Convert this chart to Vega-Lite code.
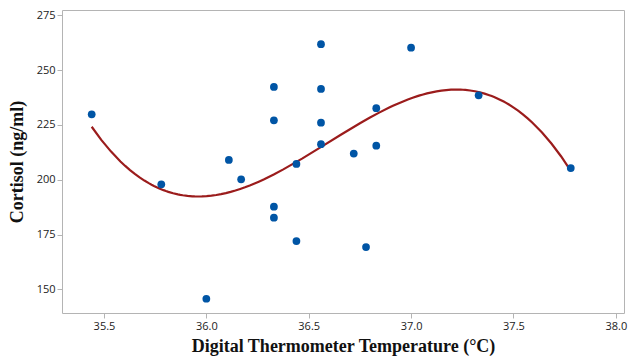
{
  "$schema": "https://vega.github.io/schema/vega-lite/v6.json",
  "width": 562,
  "height": 303,
  "autosize": "none",
  "padding": {"left": 62, "top": 10, "right": 10, "bottom": 43},
  "background": "white",
  "config": {
    "view": {"stroke": "#b4b4b4", "strokeWidth": 1},
    "axis": {
      "grid": false,
      "domain": false,
      "tickColor": "#b4b4b4",
      "tickSize": 5,
      "labelFont": "Open Sans",
      "labelFontSize": 11,
      "labelColor": "#222222",
      "titleFont": "Liberation Serif",
      "titleFontSize": 18,
      "titleFontWeight": "bold",
      "titleColor": "#111111"
    }
  },
  "data": {
    "values": [
      {"temp": 35.44, "cortisol": 229.8},
      {"temp": 35.78, "cortisol": 197.9},
      {"temp": 36.0, "cortisol": 145.7},
      {"temp": 36.11, "cortisol": 209.0},
      {"temp": 36.17, "cortisol": 200.2},
      {"temp": 36.33, "cortisol": 242.3},
      {"temp": 36.33, "cortisol": 227.1},
      {"temp": 36.33, "cortisol": 187.7},
      {"temp": 36.33, "cortisol": 182.7},
      {"temp": 36.44, "cortisol": 207.2},
      {"temp": 36.44, "cortisol": 172.0},
      {"temp": 36.56, "cortisol": 261.8},
      {"temp": 36.56, "cortisol": 241.4},
      {"temp": 36.56, "cortisol": 226.0},
      {"temp": 36.56, "cortisol": 216.2},
      {"temp": 36.72, "cortisol": 211.9},
      {"temp": 36.78, "cortisol": 169.3},
      {"temp": 36.83, "cortisol": 232.6},
      {"temp": 36.83, "cortisol": 215.5},
      {"temp": 37.0, "cortisol": 260.2},
      {"temp": 37.33, "cortisol": 238.5},
      {"temp": 37.78, "cortisol": 205.3}
    ]
  },
  "encoding": {
    "x": {
      "field": "temp",
      "type": "quantitative",
      "scale": {"domain": [35.295, 38.04], "nice": false, "zero": false},
      "axis": {
        "values": [35.5, 36.0, 36.5, 37.0, 37.5, 38.0],
        "format": ".1f",
        "title": "Digital Thermometer Temperature (°C)",
        "titlePadding": 6
      }
    },
    "y": {
      "field": "cortisol",
      "type": "quantitative",
      "scale": {"domain": [139.2, 277.4], "nice": false, "zero": false},
      "axis": {
        "values": [150, 175, 200, 225, 250, 275],
        "title": "Cortisol (ng/ml)",
        "titlePadding": 10
      }
    }
  },
  "layer": [
    {
      "transform": [
        {"regression": "cortisol", "on": "temp", "method": "poly", "order": 3}
      ],
      "mark": {"type": "line", "color": "#9b1c1c", "strokeWidth": 2.2}
    },
    {
      "mark": {"type": "point", "filled": true, "opacity": 1, "size": 60, "color": "#0055a5", "shape": "circle"}
    }
  ]
}
